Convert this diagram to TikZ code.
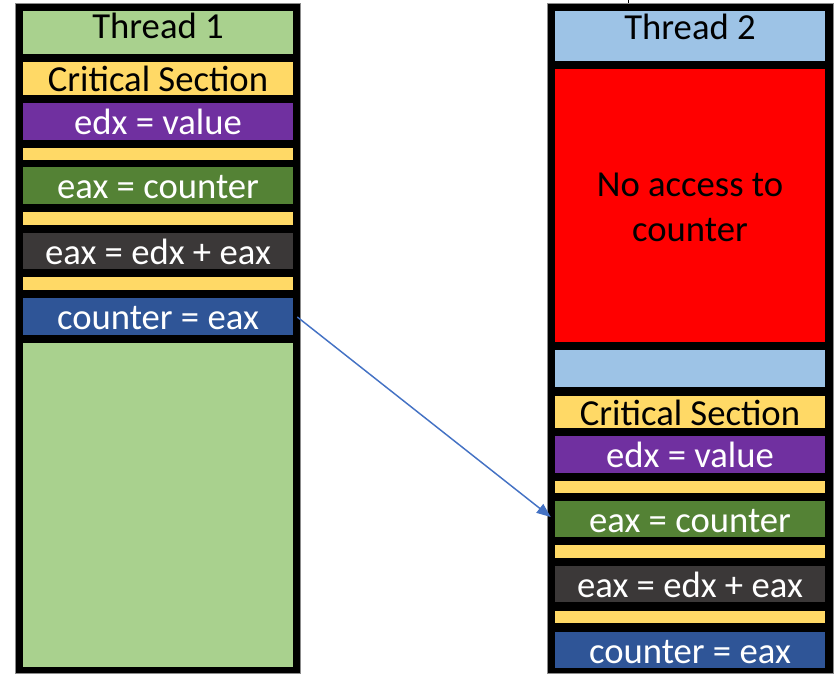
\documentclass[tikz,border=0pt]{standalone}
\usepackage{fontspec}
\setmainfont{Carlito}
\usetikzlibrary{arrows.meta,calc}
\newlength\pxl
\setlength\pxl{0.75pt}
\definecolor{hdrgreen}{HTML}{A9D18E}
\definecolor{hdrblue}{HTML}{9DC3E6}
\definecolor{csyellow}{HTML}{FFD966}
\definecolor{oppurple}{HTML}{7030A0}
\definecolor{opgreen}{HTML}{548235}
\definecolor{opgray}{HTML}{3B3838}
\definecolor{opblue}{HTML}{2F5597}
\definecolor{lockred}{HTML}{FF0000}
\definecolor{flowblue}{HTML}{4472C4}
\tikzset{
  column/.style={rectangle, inner sep=0, fill=black, draw=black!45, line width=0.6\pxl,
    minimum height=670\pxl},
  bar/.style={rectangle, inner sep=0, minimum width=270\pxl,
    text height=26\pxl, text depth=0pt, font=\fontsize{27.5}{33.75}\selectfont},
  blank/.style={bar, text height=0pt, text depth=0pt},
  wtxt/.style={text=white},
  btxt/.style={text=black},
  flow/.style={draw=flowblue, line width=1.1pt,
    -{Triangle[length=10.5pt,width=8.25pt]}},
}
\begin{document}
\begin{tikzpicture}[x=0.75pt,y=-0.75pt]
\useasboundingbox (0,0) rectangle (834,674);
% thread columns
\node[column, minimum width=285\pxl] (col1) at (157.5,338) {};
\node[column, minimum width=286\pxl] (col2) at (690,338) {};
% thread 1
\node[bar, fill=hdrgreen, btxt, minimum height=43\pxl, text height=12\pxl] (t1head) at (158,32.5) {Thread 1};
\node[bar, fill=csyellow, btxt, minimum height=33\pxl] (t1cs) at (158,78.5) {Critical Section};
\node[bar, fill=oppurple, wtxt, minimum height=37\pxl] (t1edx) at (158,121.5) {edx = value};
\node[blank, fill=csyellow, minimum height=12\pxl] (t1y1) at (158,154) {};
\node[bar, fill=opgreen, wtxt, minimum height=37\pxl] (t1load) at (158,185.5) {eax = counter};
\node[blank, fill=csyellow, minimum height=13\pxl] (t1y2) at (158,218.5) {};
\node[bar, fill=opgray, wtxt, minimum height=36\pxl] (t1add) at (158,251) {eax = edx + eax};
\node[blank, fill=csyellow, minimum height=13\pxl] (t1y3) at (158,283.5) {};
\node[bar, fill=opblue, wtxt, minimum height=37\pxl] (t1store) at (158,316.5) {counter = eax};
\node[blank, fill=hdrgreen, minimum height=324\pxl] (t1rest) at (158,505) {};
% thread 2
\node[bar, fill=hdrblue, btxt, minimum height=50\pxl, text height=7\pxl] (t2head) at (690,36) {Thread 2};
\node[bar, fill=lockred, btxt, minimum height=273\pxl, align=center, text height=71\pxl] (t2wait) at (690,205.5) {No access to\\counter};
\node[blank, fill=hdrblue, minimum height=37\pxl] (t2idle) at (690,368.5) {};
\node[bar, fill=csyellow, btxt, minimum height=32\pxl] (t2cs) at (690,412) {Critical Section};
\node[bar, fill=oppurple, wtxt, minimum height=37\pxl] (t2edx) at (690,454.5) {edx = value};
\node[blank, fill=csyellow, minimum height=12\pxl] (t2y1) at (690,487) {};
\node[bar, fill=opgreen, wtxt, minimum height=36\pxl] (t2load) at (690,519) {eax = counter};
\node[blank, fill=csyellow, minimum height=13\pxl] (t2y2) at (690,551.5) {};
\node[bar, fill=opgray, wtxt, minimum height=36\pxl] (t2add) at (690,584) {eax = edx + eax};
\node[blank, fill=csyellow, minimum height=12\pxl] (t2y3) at (690,617) {};
\node[bar, fill=opblue, wtxt, minimum height=36\pxl] (t2store) at (690,650) {counter = eax};
% short tick above thread 2
\coordinate (tick) at (628,0);
\draw[line width=0.75pt] (tick) -- (tick |- col2.north);
% hand-over from thread 1 to thread 2
\coordinate (from) at ($(t1store.east)+(4,0.5)$);
\coordinate (to) at ($(t2load.west)+(-4,-2)$);
\draw[flow] (from) -- (to);
\end{tikzpicture}
\end{document}
